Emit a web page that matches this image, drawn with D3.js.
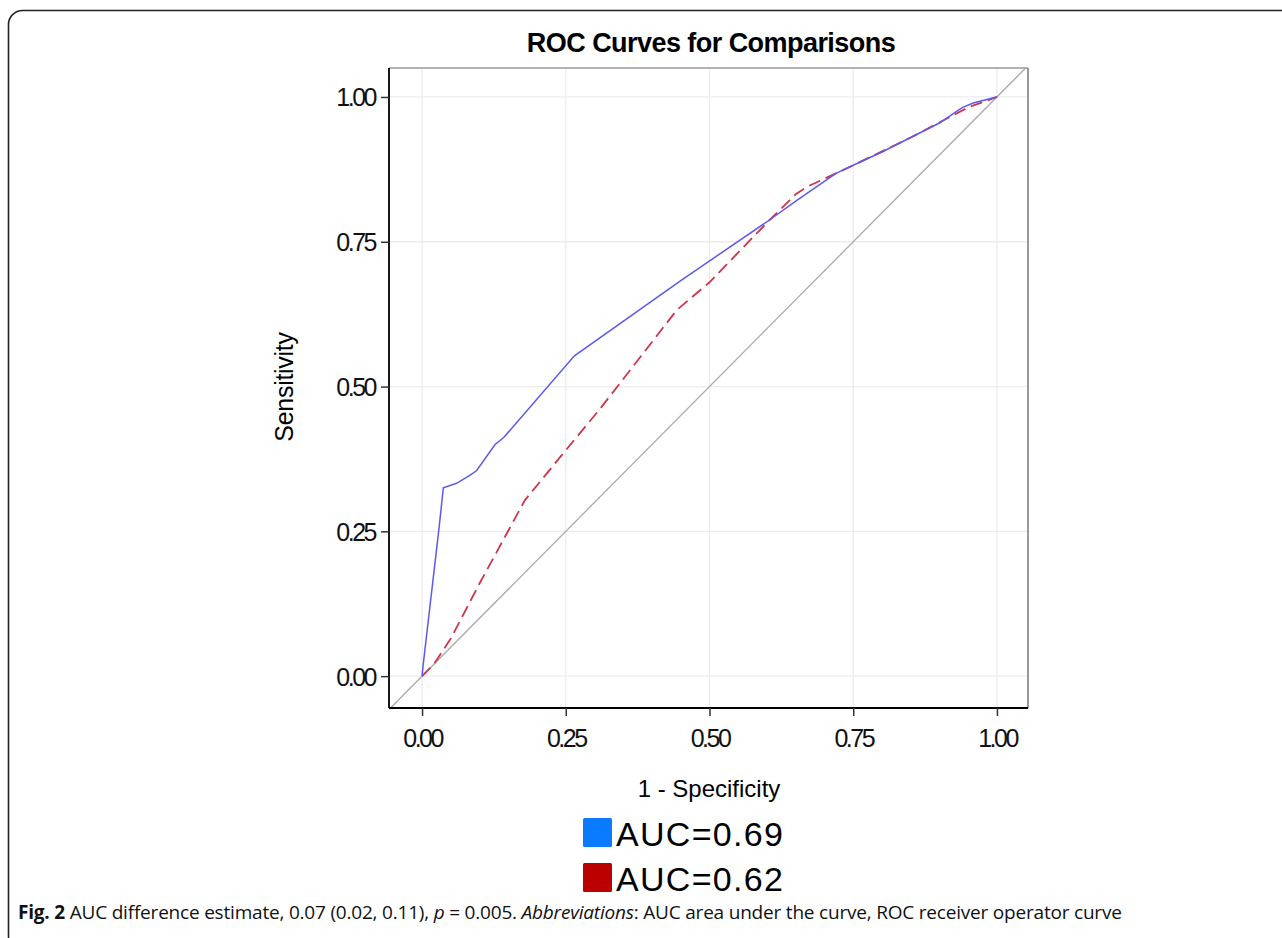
<!DOCTYPE html>
<html>
<head>
<meta charset="utf-8">
<script src="https://cdnjs.cloudflare.com/ajax/libs/d3/7.8.5/d3.min.js"></script>
<style>
  body { margin: 0; background: #fff; }
  svg { display: block; }
</style>
</head>
<body>
<div id="graph"></div>
<script>
// ROC points: [1 - specificity, sensitivity]
var rocBlue = [
  [0, 0], [0.002, 0.02], [0.03, 0.26], [0.037, 0.325], [0.06, 0.333],
  [0.085, 0.348], [0.095, 0.355], [0.127, 0.40], [0.142, 0.412],
  [0.265, 0.553], [0.45, 0.683], [0.605, 0.788], [0.65, 0.82],
  [0.72, 0.868], [0.75, 0.882], [0.80, 0.905], [0.85, 0.93],
  [0.90, 0.955], [0.94, 0.982], [0.96, 0.99], [1, 1]
];
var rocRed = [
  [0, 0], [0.02, 0.02], [0.05, 0.065], [0.10, 0.16], [0.179, 0.304],
  [0.25, 0.39], [0.31, 0.462], [0.443, 0.632], [0.50, 0.68],
  [0.605, 0.788], [0.65, 0.832], [0.67, 0.845], [0.75, 0.882],
  [0.85, 0.93], [0.95, 0.982], [1, 1]
];
var tickVals = [0, 0.25, 0.5, 0.75, 1];
var legendLabels = ["AUC=0.69", "AUC=0.62"];
var legendColors = ["#0a7bff", "#bb0000"];

function render() {
  var W = 1282, H = 938;
  var svg = d3.select('#graph').html('').append('svg')
    .attr('width', W).attr('height', H);

  // panel border
  svg.append('rect')
    .attr('x', 8.5).attr('y', 10.5)
    .attr('width', 1300).attr('height', 940)
    .attr('rx', 14)
    .attr('fill', 'none').attr('stroke', '#222').attr('stroke-width', 1.6);

  var pLeft = 389, pRight = 1028, pTop = 68, pBottom = 708;

  var x = d3.scaleLinear().domain([-0.0575, 1.054]).range([pLeft, pRight]);
  var y = d3.scaleLinear().domain([-0.055, 1.05]).range([pBottom, pTop]);

  var g = svg.append('g');

  // grid
  g.selectAll('.gx').data(tickVals).enter().append('line')
    .attr('x1', d => x(d)).attr('x2', d => x(d))
    .attr('y1', pTop).attr('y2', pBottom)
    .attr('stroke', '#ececec').attr('stroke-width', 1.3);
  g.selectAll('.gy').data(tickVals).enter().append('line')
    .attr('y1', d => y(d)).attr('y2', d => y(d))
    .attr('x1', pLeft).attr('x2', pRight)
    .attr('stroke', '#ececec').attr('stroke-width', 1.3);

  // reference diagonal
  g.append('line')
    .attr('x1', x(-0.0575)).attr('y1', y(-0.0575))
    .attr('x2', x(1.05)).attr('y2', y(1.05))
    .attr('stroke', '#aaaaaa').attr('stroke-width', 1.3);

  var line = d3.line().x(d => x(d[0])).y(d => y(d[1]));

  g.append('path').datum(rocRed)
    .attr('d', line).attr('fill', 'none')
    .attr('stroke', '#d0344a').attr('stroke-width', 1.8)
    .attr('stroke-dasharray', '12,6');

  g.append('path').datum(rocBlue)
    .attr('d', line).attr('fill', 'none')
    .attr('stroke', '#5a5af0').attr('stroke-width', 1.5);

  // frame: top/right gray
  g.append('line').attr('x1', pLeft).attr('x2', pRight).attr('y1', pTop).attr('y2', pTop)
    .attr('stroke', '#999').attr('stroke-width', 1.5);
  g.append('line').attr('x1', pRight).attr('x2', pRight).attr('y1', pTop).attr('y2', pBottom)
    .attr('stroke', '#777').attr('stroke-width', 1.5);

  // axes
  var xAxis = d3.axisBottom(x).tickValues(tickVals).tickFormat(d3.format('.2f'))
    .tickSize(8).tickPadding(13);
  var yAxis = d3.axisLeft(y).tickValues(tickVals).tickFormat(d3.format('.2f'))
    .tickSize(8).tickPadding(6);

  var gx = svg.append('g').attr('transform', 'translate(0,' + pBottom + ')').call(xAxis);
  var gy = svg.append('g').attr('transform', 'translate(' + pLeft + ',0)').call(yAxis);
  [gx, gy].forEach(function(a){
    a.select('.domain').attr('stroke', '#000').attr('stroke-width', 1.8);
    a.selectAll('.tick line').attr('stroke', '#333').attr('stroke-width', 1.5);
    a.selectAll('text')
      .attr('font-family', 'Liberation Sans, Arial, sans-serif')
      .attr('font-size', 25).attr('fill', '#111')
      .attr('letter-spacing', '-2.5px');
  });
  gx.select('.domain').attr('d', 'M' + pLeft + ',0H' + pRight);
  gy.select('.domain').attr('d', 'M0,' + pTop + 'V' + pBottom);
  gy.selectAll('text').attr('dy', '0.36em');

  // title
  svg.append('text')
    .attr('x', 711).attr('y', 52)
    .attr('text-anchor', 'middle')
    .attr('font-family', 'Liberation Sans, Arial, sans-serif')
    .attr('font-weight', 'bold').attr('font-size', 27)
    .attr('letter-spacing', '-0.55px')
    .text('ROC Curves for Comparisons');

  // axis labels
  svg.append('text')
    .attr('x', 709).attr('y', 797)
    .attr('text-anchor', 'middle')
    .attr('font-family', 'Liberation Sans, Arial, sans-serif')
    .attr('font-size', 24).attr('letter-spacing', '0px')
    .text('1 - Specificity');
  svg.append('text')
    .attr('transform', 'translate(293,387) rotate(-90)')
    .attr('text-anchor', 'middle')
    .attr('font-family', 'Liberation Sans, Arial, sans-serif')
    .attr('font-size', 25).attr('letter-spacing', '-0.3px')
    .text('Sensitivity');

  // legend
  var leg = svg.selectAll('.leg').data(legendLabels).enter().append('g')
    .attr('transform', (d, i) => 'translate(583,' + (818 + i * 45) + ')');
  leg.append('rect')
    .attr('width', 29).attr('height', 29).attr('rx', 1.5)
    .attr('fill', (d, i) => legendColors[i]);
  leg.append('text')
    .attr('x', 33).attr('y', 28)
    .attr('font-family', 'Liberation Sans, Arial, sans-serif')
    .attr('font-size', 34).attr('letter-spacing', '1.3px')
    .text(d => d);

  // caption
  var cap = svg.append('text')
    .attr('x', 18).attr('y', 919)
    .attr('font-family', 'Open Sans, sans-serif')
    .attr('font-size', 19).attr('fill', '#111')
    .attr('letter-spacing', '-0.2px');
  cap.append('tspan').attr('font-weight', 'bold').text('Fig. 2');
  cap.append('tspan').text(' AUC difference estimate, 0.07 (0.02, 0.11), ');
  cap.append('tspan').attr('font-style', 'italic').text('p');
  cap.append('tspan').text(' = 0.005. ');
  cap.append('tspan').attr('font-style', 'italic').text('Abbreviations');
  cap.append('tspan').text(': AUC area under the curve, ROC receiver operator curve');
}
render();
</script>
</body>
</html>
